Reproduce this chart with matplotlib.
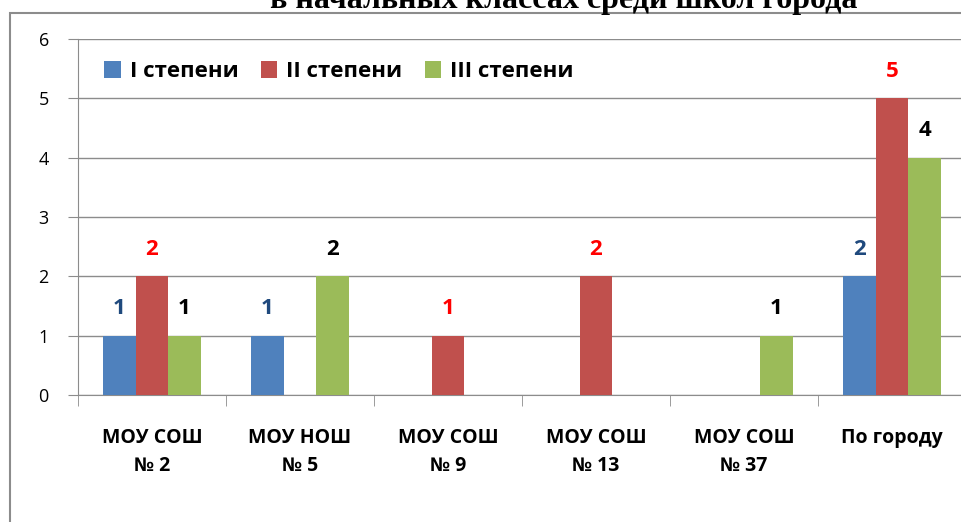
import numpy as np
from matplotlib import pyplot as plt
from matplotlib.patches import Rectangle

# data
schools = ['МОУ СОШ\n№ 2', 'МОУ НОШ\n№ 5', 'МОУ СОШ\n№ 9', 'МОУ СОШ\n№ 13', 'МОУ СОШ\n№ 37', 'По городу']
series_names = ['I степени', 'II степени', 'III степени']
deg1 = [1, 1, 0, 0, 0, 2]
deg2 = [2, 0, 1, 2, 0, 5]
deg3 = [1, 2, 0, 0, 1, 4]

colors = ['#4F81BD', '#C0504D', '#9BBB59']
label_colors = ['#1F497D', '#FF0000', '#000000']
W, H = 962, 522

plt.rcParams['font.family'] = ['Open Sans', 'DejaVu Sans']

fig = plt.figure(figsize=(W / 100, H / 100), dpi=100)

# outer frame of the chart object
fig.patches.append(Rectangle((10 / W, -0.1), 1.2, 1 - 13 / H + 0.1, transform=fig.transFigure,
                             fill=False, edgecolor='#8c8c8c', lw=1.5))

# title (its upper part falls outside the picture, as in the original)
fig.text(564 / W, 1 - 8 / H, 'в начальных классах среди школ города', ha='center', va='baseline',
         fontsize=23, fontweight='bold', family='Liberation Serif')

ax = fig.add_axes([78 / W, 1 - 395 / H, 888 / W, 356 / H])
x = np.arange(len(schools))
bw = 0.22
for i, vals in enumerate([deg1, deg2, deg3]):
    pos = x + (i - 1) * bw
    ax.bar(pos, vals, bw, color=colors[i], label=series_names[i], zorder=3)
    for p, v in zip(pos, vals):
        if v > 0:
            ax.text(p, v + 0.28, str(v), ha='center', va='bottom', fontsize=16,
                    fontweight='bold', color=label_colors[i])

ax.set_xlim(-0.5, len(schools) - 0.5)
ax.set_ylim(0, 6)
ax.set_yticks(range(7))
ax.grid(axis='y', color='#8c8c8c', lw=1, zorder=0)
for s in ['top', 'right']:
    ax.spines[s].set_visible(False)
for s in ['left', 'bottom']:
    ax.spines[s].set_color('#8c8c8c')
ax.tick_params(axis='y', length=7, color='#8c8c8c', labelsize=13, pad=14)
ax.set_xticks(x)
ax.set_xticklabels(schools, fontsize=14, fontweight='bold', linespacing=1.5)
ax.tick_params(axis='x', length=0, pad=24)
ax.set_xticks(np.arange(len(schools) + 1) - 0.5, minor=True)
ax.tick_params(axis='x', which='minor', length=8, color='#8c8c8c')

ax.legend(loc='upper left', bbox_to_anchor=(0.007, 0.994), ncol=3, frameon=False,
          prop={'weight': 'bold', 'size': 16}, handlelength=0.75, handleheight=0.75,
          handletextpad=0.4, columnspacing=1.0)

fig.savefig('out.png', dpi=100)
